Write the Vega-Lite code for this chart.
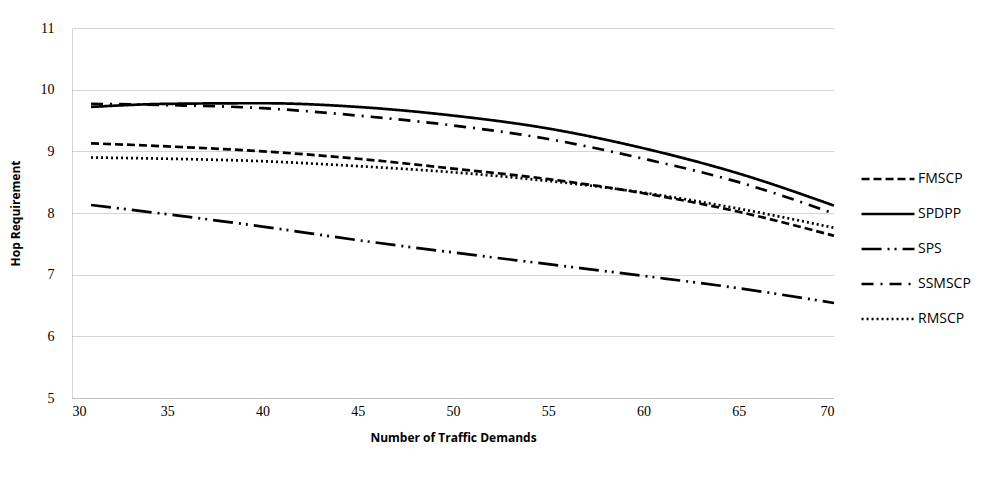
{
  "$schema": "https://vega.github.io/schema/vega-lite/v6.json",
  "width": 762,
  "height": 370,
  "autosize": {"type": "none"},
  "padding": {"left": 72, "top": 28, "right": 156, "bottom": 84},
  "background": "white",
  "data": {
    "values": [
      {"x": 31, "s": "FMSCP", "y": 9.13}, {"x": 35, "s": "FMSCP", "y": 9.08}, {"x": 40, "s": "FMSCP", "y": 9.0}, {"x": 45, "s": "FMSCP", "y": 8.88}, {"x": 50, "s": "FMSCP", "y": 8.72}, {"x": 55, "s": "FMSCP", "y": 8.55}, {"x": 60, "s": "FMSCP", "y": 8.32}, {"x": 65, "s": "FMSCP", "y": 8.02}, {"x": 70, "s": "FMSCP", "y": 7.63},
      {"x": 31, "s": "SPDPP", "y": 9.72}, {"x": 35, "s": "SPDPP", "y": 9.77}, {"x": 40, "s": "SPDPP", "y": 9.78}, {"x": 45, "s": "SPDPP", "y": 9.72}, {"x": 50, "s": "SPDPP", "y": 9.58}, {"x": 55, "s": "SPDPP", "y": 9.37}, {"x": 60, "s": "SPDPP", "y": 9.05}, {"x": 65, "s": "SPDPP", "y": 8.64}, {"x": 70, "s": "SPDPP", "y": 8.12},
      {"x": 31, "s": "SPS", "y": 8.13}, {"x": 35, "s": "SPS", "y": 7.98}, {"x": 40, "s": "SPS", "y": 7.78}, {"x": 45, "s": "SPS", "y": 7.56}, {"x": 50, "s": "SPS", "y": 7.36}, {"x": 55, "s": "SPS", "y": 7.17}, {"x": 60, "s": "SPS", "y": 6.98}, {"x": 65, "s": "SPS", "y": 6.78}, {"x": 70, "s": "SPS", "y": 6.54},
      {"x": 31, "s": "SSMSCP", "y": 9.77}, {"x": 35, "s": "SSMSCP", "y": 9.75}, {"x": 40, "s": "SSMSCP", "y": 9.7}, {"x": 45, "s": "SSMSCP", "y": 9.58}, {"x": 50, "s": "SSMSCP", "y": 9.42}, {"x": 55, "s": "SSMSCP", "y": 9.2}, {"x": 60, "s": "SSMSCP", "y": 8.88}, {"x": 65, "s": "SSMSCP", "y": 8.5}, {"x": 70, "s": "SSMSCP", "y": 7.99},
      {"x": 31, "s": "RMSCP", "y": 8.9}, {"x": 35, "s": "RMSCP", "y": 8.88}, {"x": 40, "s": "RMSCP", "y": 8.84}, {"x": 45, "s": "RMSCP", "y": 8.76}, {"x": 50, "s": "RMSCP", "y": 8.66}, {"x": 55, "s": "RMSCP", "y": 8.52}, {"x": 60, "s": "RMSCP", "y": 8.33}, {"x": 65, "s": "RMSCP", "y": 8.07}, {"x": 70, "s": "RMSCP", "y": 7.76}
    ]
  },
  "mark": {"type": "line", "interpolate": "monotone", "strokeWidth": 2.7, "color": "black"},
  "encoding": {
    "x": {
      "field": "x", "type": "quantitative",
      "scale": {"domain": [30, 70], "nice": false},
      "axis": {
        "title": "Number of Traffic Demands",
        "values": [30, 35, 40, 45, 50, 55, 60, 65, 70],
        "grid": false, "ticks": false,
        "domain": true, "domainColor": "#aaaaaa", "domainDash": [1, 1],
        "labelFont": "Liberation Serif", "labelFontSize": 14, "labelColor": "black", "labelPadding": 6,
        "titleFont": "Open Sans", "titleFontSize": 12, "titleFontWeight": "bold", "titleColor": "black", "titlePadding": 14
      }
    },
    "y": {
      "field": "y", "type": "quantitative",
      "scale": {"domain": [5, 11], "nice": false, "zero": false},
      "axis": {
        "title": "Hop Requirement",
        "values": [5, 6, 7, 8, 9, 10, 11],
        "grid": true, "gridColor": "#aaaaaa", "gridDash": [1, 1],
        "ticks": false,
        "domain": true, "domainColor": "#aaaaaa", "domainDash": [1, 1],
        "labelFont": "Liberation Serif", "labelFontSize": 14, "labelColor": "black", "labelPadding": 18,
        "titleFont": "Open Sans", "titleFontSize": 12, "titleFontWeight": "bold", "titleColor": "black", "titlePadding": 18
      }
    },
    "strokeDash": {
      "field": "s", "type": "nominal",
      "scale": {
        "domain": ["FMSCP", "SPDPP", "SPS", "SSMSCP", "RMSCP"],
        "range": [[8, 4], [1, 0], [20, 6, 2, 5, 2, 6], [12, 7, 2, 7], [2, 3]]
      },
      "legend": {
        "title": null,
        "orient": "none",
        "legendX": 788,
        "legendY": 123,
        "symbolType": "stroke",
        "symbolSize": 2800,
        "symbolStrokeWidth": 2.7,
        "symbolStrokeColor": "black",
        "rowPadding": -20,
        "labelFont": "Open Sans",
        "labelFontSize": 14,
        "labelColor": "black",
        "labelOffset": 2
      }
    }
  },
  "config": {"view": {"stroke": null}}
}
